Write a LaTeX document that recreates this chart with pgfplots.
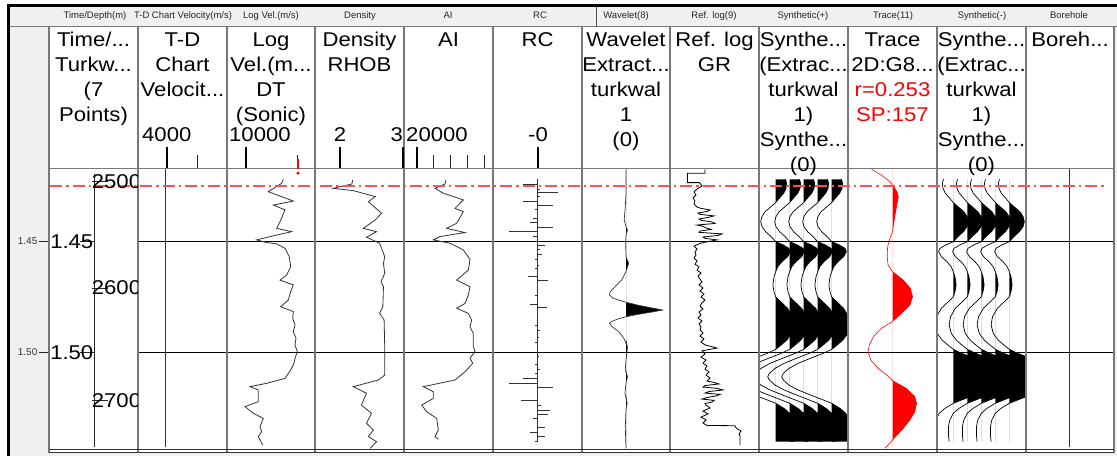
\documentclass[border=0pt]{standalone}
\usepackage{fontspec}
\setmainfont{Liberation Sans}
\newfontfamily\hdrfont[FakeStretch=1.11]{Liberation Sans}
\usepackage{pgfplots}
\pgfplotsset{compat=1.18}
\usepackage{pgfplotstable}

\newcommand\hf{\hdrfont\fontsize{20}{25}\selectfont}
\newcommand\stripf{\fontsize{9.5}{11}\selectfont}
\newcommand\tickf{\fontsize{10}{12}\selectfont}

\definecolor{panelgray}{RGB}{240,240,240}
\definecolor{sepgray}{RGB}{120,120,120}
\definecolor{markerred}{RGB}{255,80,80}

% ---------------- well log data (time in s) ----------------
\pgfplotstableread{
t v
1.4222 13730
1.4240 13570
1.4278 12230
1.4320 14730
1.4338 12730
1.4360 13900
1.4413 13400
1.4443 13070
1.4458 14570
1.4473 13070
1.4495 11070
1.4507 12070
1.4513 13070
1.4533 13900
1.4571 14330
1.4616 14470
1.4653 14070
1.4676 13400
1.4698 14730
1.4728 14470
1.4766 14230
1.4796 13470
1.4818 14730
1.4848 14670
1.4878 14900
1.4908 14730
1.4938 15000
1.4968 14900
1.4998 15130
1.5028 14900
1.5051 14800
1.5081 14470
1.5119 13900
1.5141 12070
1.5156 10400
1.5171 11230
1.5224 11230
1.5246 9900
1.5276 10730
1.5299 11730
1.5336 11400
1.5359 11570
1.5381 11230
1.5419 11670
}\logvel

\pgfplotstableread{
t rho
1.4225 2.20
1.4243 2.19
1.4263 1.89
1.4273 2.21
1.4300 2.56
1.4323 2.45
1.4375 2.66
1.4405 2.56
1.4443 2.37
1.4458 2.58
1.4483 2.42
1.4510 2.63
1.4571 2.71
1.4601 2.69
1.4646 2.71
1.4683 2.65
1.4706 2.69
1.4796 2.68
1.4826 2.63
1.4856 2.70
1.4976 2.71
1.5104 2.71
1.5126 2.61
1.5156 2.21
1.5186 2.42
1.5239 2.34
1.5276 2.50
1.5321 2.42
1.5351 2.53
1.5381 2.45
1.5404 2.58
1.5434 2.48
}\density

\pgfplotstableread{
t ai
1.4225 23540
1.4243 23420
1.4263 22220
1.4285 23220
1.4315 25620
1.4353 24620
1.4368 25620
1.4420 24820
1.4443 23620
1.4462 25820
1.4480 22820
1.4495 22020
1.4510 24020
1.4540 25620
1.4583 26420
1.4631 26220
1.4676 24820
1.4706 26420
1.4743 26220
1.4781 25820
1.4803 24820
1.4826 26220
1.4856 26620
1.4886 26420
1.4916 26820
1.4976 26820
1.4998 27020
1.5028 26420
1.5051 26740
1.5089 25820
1.5126 24620
1.5156 20820
1.5179 22020
1.5209 22020
1.5239 20620
1.5269 21220
1.5299 22420
1.5351 22620
1.5381 22220
1.5393 22620
}\ai

\pgfplotstableread{
t rc
1.4243 -0.032
1.4267 0.005
1.4281 0.046
1.4300 0.005
1.4323 -0.032
1.4338 0.035
1.4357 -0.006
1.4379 -0.002
1.4398 -0.010
1.4416 -0.017
1.4440 0.035
1.4458 -0.064
1.4480 -0.010
1.4521 0.016
1.4540 0.005
1.4560 0.011
1.4582 -0.006
1.4608 0.004
1.4623 -0.006
1.4661 -0.021
1.4679 0.024
1.4743 -0.006
1.4784 -0.017
1.4800 0.022
1.4881 -0.006
1.4904 0.005
1.4935 0.004
1.4958 -0.006
1.5021 0.004
1.5036 -0.001
1.5058 -0.006
1.5078 0.005
1.5096 -0.006
1.5119 -0.032
1.5141 -0.064
1.5161 0.035
1.5219 -0.038
1.5242 0.007
1.5261 0.028
1.5281 0.024
1.5299 -0.011
1.5321 -0.001
1.5339 0.016
1.5360 -0.017
1.5381 0.016
1.5401 -0.006
}\rc

\pgfplotstableread{
t w
1.4177 0
1.4285 0
1.4345 -0.02
1.4405 -0.05
1.4436 0
1.4450 0.04
1.4473 0
1.4510 -0.01
1.4571 0
1.4600 0.07
1.4638 0
1.4676 -0.12
1.4706 -0.30
1.4728 -0.43
1.4743 -0.45
1.4758 -0.35
1.4770 -0.12
1.4776 0
1.4790 0.35
1.4803 0.75
1.4811 1.00
1.4820 0.70
1.4831 0.30
1.4841 0
1.4850 -0.20
1.4863 -0.40
1.4871 -0.45
1.4886 -0.38
1.4908 -0.20
1.4938 -0.06
1.4976 0.04
1.5036 0
1.5081 -0.02
1.5111 0.04
1.5141 0
1.5186 -0.03
1.5230 0.03
1.5261 0
1.5336 -0.02
1.5434 0
}\wavelet

\pgfplotstableread{
t gr
1.4177 70
1.4195 70
1.4195 35
1.4237 35
1.4237 59
1.4252 64
1.4266 54
1.4279 48
1.4293 52
1.4306 46
1.4320 50
1.4333 48
1.4347 54
1.4353 62
1.4360 80
1.4367 74
1.4374 56
1.4380 60
1.4387 88
1.4394 76
1.4401 58
1.4407 62
1.4414 84
1.4421 90
1.4428 54
1.4434 66
1.4441 72
1.4448 82
1.4455 60
1.4461 58
1.4468 104
1.4475 96
1.4482 66
1.4488 70
1.4495 94
1.4509 62
1.4523 48
1.4536 54
1.4550 50
1.4563 52
1.4577 48
1.4590 54
1.4604 50
1.4617 58
1.4631 54
1.4644 62
1.4658 56
1.4671 60
1.4685 64
1.4698 58
1.4712 66
1.4725 60
1.4739 68
1.4752 62
1.4766 70
1.4779 64
1.4793 60
1.4806 66
1.4820 58
1.4833 62
1.4847 56
1.4860 64
1.4874 58
1.4887 62
1.4901 60
1.4914 66
1.4928 60
1.4941 68
1.4955 62
1.4968 70
1.4982 94
1.4995 64
1.5009 70
1.5023 62
1.5036 72
1.5050 66
1.5063 74
1.5077 70
1.5090 78
1.5104 72
1.5117 80
1.5131 74
1.5137 88
1.5144 98
1.5151 70
1.5158 66
1.5164 94
1.5171 106
1.5178 78
1.5185 70
1.5191 100
1.5198 92
1.5205 74
1.5212 64
1.5218 88
1.5225 84
1.5232 70
1.5239 72
1.5252 80
1.5266 66
1.5279 76
1.5293 62
1.5306 72
1.5320 66
1.5331 74
1.5332 130
1.5342 132
1.5356 142
1.5369 138
1.5378 140
1.5419 140
}\gr

% synthetic seismogram amplitude (trace spacing units)
\pgfplotstableread{
t a
1.4222 0.70
1.4240 0.78
1.4263 0.74
1.4285 0.57
1.4308 0.25
1.4327 0
1.4345 -0.33
1.4368 -0.75
1.4390 -0.98
1.4413 -1.07
1.4435 -0.98
1.4458 -0.72
1.4480 -0.33
1.4503 0
1.4518 0.55
1.4533 0.95
1.4548 1.05
1.4571 0.85
1.4593 0.45
1.4616 0.15
1.4638 0
1.4661 -0.12
1.4698 -0.20
1.4728 -0.12
1.4751 0
1.4773 0.35
1.4803 0.85
1.4841 1.20
1.4878 1.30
1.4916 1.15
1.4946 0.80
1.4968 0.40
1.4988 0
1.5006 -0.60
1.5028 -1.50
1.5051 -2.40
1.5074 -3.05
1.5096 -3.45
1.5111 -3.57
1.5126 -3.45
1.5149 -3.05
1.5171 -2.40
1.5194 -1.50
1.5216 -0.60
1.5231 0
1.5254 0.60
1.5276 1.00
1.5306 1.25
1.5336 1.35
1.5374 1.35
1.5404 1.30
}\synth

% seismic trace at the well
\pgfplotstableread{
t a
1.4177 -0.47
1.4203 -0.25
1.4233 -0.06
1.4248 0
1.4278 0.10
1.4300 0.13
1.4345 0.09
1.4390 0.05
1.4435 0.015
1.4458 0
1.4480 -0.045
1.4525 -0.11
1.4571 -0.12
1.4608 -0.10
1.4638 0
1.4676 0.24
1.4713 0.40
1.4751 0.45
1.4788 0.39
1.4826 0.20
1.4863 0
1.4893 -0.25
1.4931 -0.43
1.4968 -0.52
1.4998 -0.55
1.5036 -0.49
1.5074 -0.32
1.5104 -0.13
1.5129 0
1.5164 0.31
1.5201 0.50
1.5231 0.54
1.5269 0.50
1.5306 0.39
1.5344 0.24
1.5374 0.10
1.5396 0
1.5419 -0.10
1.5434 -0.17
}\seistrace

\pgfplotsset{
  track/.style={
    scale only axis, anchor=north west, height=280bp,
    ymin=1.417568, ymax=1.543694, y dir=reverse,
    axis line style={draw=none}, xtick=\empty,
    ytick={1.45,1.5}, yticklabels={,,},
    tick style={draw=none}, major tick length=0pt,
    ymajorgrids, grid style={black, line width=1bp},
  },
  logline/.style={draw=black!80, line width=0.8bp, mark=none},
}

\begin{document}
\begin{tikzpicture}[x=1bp,y=1bp]
\path[use as bounding box] (0,0) rectangle (1117,-456);
\fill[white] (0,0) rectangle (1117,-456);
\fill[panelgray] (10,-7) rectangle (1117,-456);
\fill[white] (49,-27) rectangle (1114,-453);
\fill[black] (7,-4) rectangle (1117,-7);
\fill[black] (7,-4) rectangle (10,-456);

% ---- Time/Depth
\begin{axis}[track, at={(49bp,-169bp)}, width=89bp, xmin=0, xmax=1,
  ymajorgrids=false, yticklabels={1.45,1.50},
  major tick length=10bp, tick align=outside, ytick pos=left,
  tick style={draw=black!85, line width=0.8bp},
  yticklabel style={font=\tickf, text=black!80, inner sep=1.5bp}]
\addplot[black!85, line width=0.8bp, mark=none] coordinates {(0.509,1.4199) (0.509,1.5428)};
\end{axis}

% ---- T-D chart velocity
\begin{axis}[track, at={(138bp,-169bp)}, width=89bp, xmin=3033.3, xmax=6000]
\addplot[logline] coordinates {(3933,1.4177) (3933,1.5428)};
\end{axis}

% ---- Log velocity
\begin{axis}[track, at={(227bp,-169bp)}, width=88bp, xmin=8100, xmax=16900]
\addplot[logline] table[x=v, y=t] {\logvel};
\end{axis}

% ---- Density
\begin{axis}[track, at={(315bp,-169bp)}, width=89bp, xmin=1.6032, xmax=3.0159]
\addplot[logline] table[x=rho, y=t] {\density};
\end{axis}

% ---- Acoustic impedance
\begin{axis}[track, at={(404bp,-169bp)}, width=89bp, xmin=18500, xmax=29180]
\addplot[logline] table[x=ai, y=t] {\ai};
\end{axis}

% ---- Reflection coefficients
\begin{axis}[track, at={(493bp,-169bp)}, width=89bp, xmin=-0.1, xmax=0.1]
\addplot[logline] coordinates {(0,1.4222) (0,1.5401)};
\addplot[xcomb, draw=black!80, line width=0.8bp, mark=none] table[x=rc, y=t] {\rc};
\end{axis}

% ---- Wavelet
\begin{axis}[track, at={(582bp,-169bp)}, width=88bp, xmin=-1.2, xmax=1.2]
\addplot[fill=black, draw=none] table[x expr={max(\thisrow{w},0)}, y=t] {\wavelet}
  -- (axis cs:0,1.5434) -- (axis cs:0,1.4177) -- cycle;
\addplot[logline, line width=0.7bp] table[x=w, y=t] {\wavelet};
\end{axis}

% ---- Reference log GR
\begin{axis}[track, at={(670bp,-169bp)}, width=89bp, xmin=0, xmax=178]
\addplot[draw=black, line width=0.8bp, mark=none] table[x=gr, y=t] {\gr};
\end{axis}

% ---- Synthetic (+)
\begin{axis}[track, at={(759bp,-169bp)}, width=89bp, xmin=-0.19, xmax=6.167]
\pgfplotsinvokeforeach{1,...,5}{
  \addplot[fill=black, draw=none] table[x expr={max(\thisrow{a},0)+#1}, y=t] {\synth}
    -- (axis cs:#1,1.5404) -- (axis cs:#1,1.4222) -- cycle;
  \addplot[draw=black, line width=0.7bp, mark=none] table[x expr={\thisrow{a}+#1}, y=t] {\synth};
}
\end{axis}

% ---- Seismic trace
\begin{axis}[track, at={(848bp,-169bp)}, width=89bp, xmin=-1, xmax=1]
\addplot[fill=red, draw=none] table[x expr={max(\thisrow{a},0)}, y=t] {\seistrace}
  -- (axis cs:0,1.5434) -- (axis cs:0,1.4177) -- cycle;
\addplot[draw=red, line width=0.6bp, mark=none] table[x=a, y=t] {\seistrace};
\end{axis}

% ---- Synthetic (-)
\begin{axis}[track, at={(937bp,-169bp)}, width=89bp, xmin=-0.165, xmax=6.192]
\pgfplotsinvokeforeach{1,...,5}{
  \addplot[fill=black, draw=none] table[x expr={max(-\thisrow{a},0)+#1}, y=t] {\synth}
    -- (axis cs:#1,1.5404) -- (axis cs:#1,1.4222) -- cycle;
  \addplot[draw=black, line width=0.7bp, mark=none] table[x expr={#1-\thisrow{a}}, y=t] {\synth};
}
\end{axis}

% ---- Borehole
\begin{axis}[track, at={(1026bp,-169bp)}, width=88bp, xmin=0, xmax=16]
\addplot[logline] coordinates {(7.82,1.4177) (7.82,1.5428)};
\end{axis}

% ---- grid frame
\foreach \xx in {49,138,227,315,404,493,582,670,759,848,937,1026,1114}
  \draw[sepgray, line width=1.3bp] (\xx,-27) -- (\xx,-453);
\draw[sepgray, line width=1bp] (10,-26.7) -- (1117,-26.7);
\draw[sepgray, line width=1bp] (49,-168.3) -- (1114,-168.3);
\draw[black!80, line width=1bp] (49,-449.5) -- (1114,-449.5);
\draw[black!80, line width=1bp] (49,-452.8) -- (1114,-452.8);
\draw[black!70, line width=0.8bp] (596,-7) -- (596,-26.7);

% ---- top marker line (dash-dot, built from filled segments)
\foreach \xx in {50,72.5,...,1105}{
  \fill[markerred] (\xx,-185.1) rectangle ++(12,-1.5);
  \fill[markerred] (\xx+16,-185.1) rectangle ++(2.5,-1.5);
}

% ---- scale ticks in header
\foreach \xx in {167,246,340,403,417,538}
  \draw[black, line width=2.5bp] (\xx,-147) -- (\xx,-168);
\foreach \xx in {197,297,433.3,450,467.3,484.3}
  \draw[black!85, line width=0.9bp] (\xx,-155) -- (\xx,-168);
\draw[red, line width=2.8bp] (298,-159.5) -- (298,-169.5);
\fill[red] (298,-173.2) circle (1.7);

% ---- time/depth annotations
\draw[black!85, line width=0.8bp] (80,-241) -- (94.3,-241);
\draw[black!85, line width=0.8bp] (80,-352) -- (94.3,-352);
\node[anchor=base east, inner sep=0] at (93.5,-248.3) {\hf 1.45};
\node[anchor=base east, inner sep=0] at (93.5,-360) {\hf 1.50};
\begin{scope}
\clip (49,-169) rectangle (137.3,-449);
\draw[black!85, line width=0.8bp] (92,-181) -- (108,-181);
\draw[black!85, line width=0.8bp] (92,-288) -- (108,-288);
\draw[black!85, line width=0.8bp] (92,-400) -- (108,-400);
\node[anchor=base west, inner sep=0] at (91.7,-188.3) {\hf 2500};
\node[anchor=base west, inner sep=0] at (91.7,-295) {\hf 2600};
\node[anchor=base west, inner sep=0] at (91.7,-407.7) {\hf 2700};
\end{scope}

% ---- header strip labels
\begin{scope}[every node/.style={anchor=base, inner sep=0, text=black!85, font=\stripf}]
\node at (95,-18.5) {Time/Depth(m)};
\node at (183,-18.5) {T-D Chart Velocity(m/s)};
\node at (271,-18.5) {Log Vel.(m/s)};
\node at (360,-18.5) {Density};
\node at (448,-18.5) {AI};
\node at (540,-18.5) {RC};
\node at (626,-18.5) {Wavelet(8)};
\node at (714,-18.5) {Ref. log(9)};
\node at (803,-18.5) {Synthetic(+)};
\node at (893,-18.5) {Trace(11)};
\node at (982,-18.5) {Synthetic(-)};
\node at (1069,-18.5) {Borehole};
\end{scope}

% ---- column headers
\begin{scope}[every node/.style={anchor=base, inner sep=0, font=\hf}]
\node at (93.5,-46.7) {Time/...};
\node at (93.5,-71.7) {Turkw...};
\node at (93.5,-96.7) {(7};
\node at (93.5,-121.7) {Points)};
\node at (182.5,-46.7) {T-D};
\node at (182.5,-71.7) {Chart};
\node at (182.5,-96.7) {Velocit...};
\node at (271,-46.7) {Log};
\node at (271,-71.7) {Vel.(m...};
\node at (271,-96.7) {DT};
\node at (271,-121.7) {(Sonic)};
\node at (359.5,-46.7) {Density};
\node at (359.5,-71.7) {RHOB};
\node at (448.5,-46.7) {AI};
\node at (537.5,-46.7) {RC};
\node at (626,-46.7) {Wavelet};
\node at (626,-71.7) {Extract...};
\node at (626,-96.7) {turkwal};
\node at (626,-121.7) {1};
\node at (626,-146.7) {(0)};
\node at (714.5,-46.7) {Ref. log};
\node at (714.5,-71.7) {GR};
\node at (803.5,-46.7) {Synthe...};
\node at (803.5,-71.7) {(Extrac...};
\node at (803.5,-96.7) {turkwal};
\node at (803.5,-121.7) {1)};
\node at (803.5,-146.7) {Synthe...};
\node at (803.5,-171.7) {(0)};
\node at (892.5,-46.7) {Trace};
\node at (892.5,-71.7) {2D:G8...};
\node[text=red] at (892.5,-96.7) {r=0.253};
\node[text=red] at (892.5,-121.7) {SP:157};
\node at (981.5,-46.7) {Synthe...};
\node at (981.5,-71.7) {(Extrac...};
\node at (981.5,-96.7) {turkwal};
\node at (981.5,-121.7) {1)};
\node at (981.5,-146.7) {Synthe...};
\node at (981.5,-171.7) {(0)};
\node at (1070,-46.7) {Boreh...};
\end{scope}

% ---- scale values
\begin{scope}[every node/.style={inner sep=0, font=\hf}]
\node[anchor=base west] at (142,-142) {4000};
\node[anchor=base west] at (229,-142) {10000};
\node[anchor=base] at (340,-142) {2};
\node[anchor=base east] at (403,-142) {3};
\node[anchor=base west] at (406,-142) {20000};
\node[anchor=base] at (538,-142) {-0};
\end{scope}
\end{tikzpicture}
\end{document}
